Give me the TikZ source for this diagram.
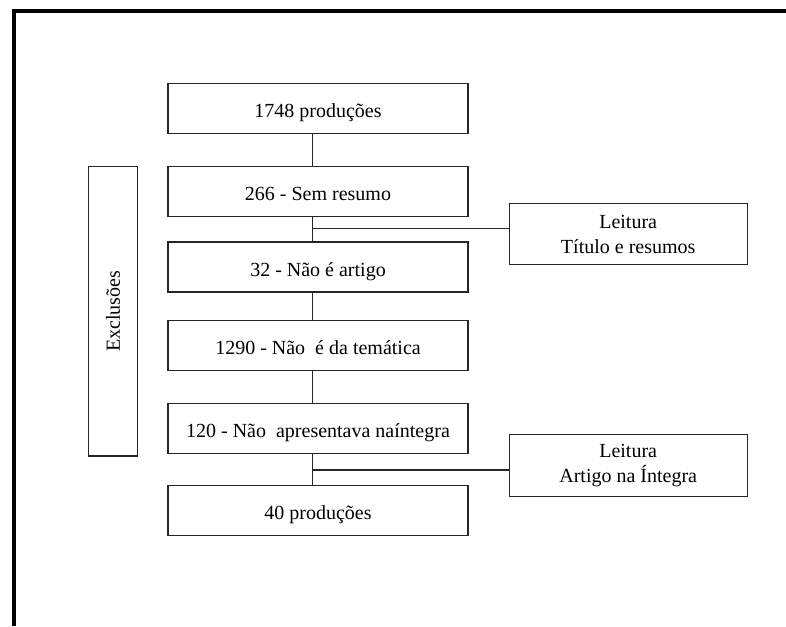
\documentclass[tikz,border=0pt]{standalone}
\usepackage{fontspec}
\setmainfont{Liberation Serif}
\begin{document}
\begin{tikzpicture}[x=1pt,y=-1pt,
  box/.style={draw=black!85, line width=1.1pt, inner sep=0pt, font=\fontsize{20}{25}\selectfont, align=center},
  mainbox/.style={box, minimum width=300pt, minimum height=50pt, text height=22pt, text depth=4pt},
  sidebox/.style={box, minimum width=238.3pt, minimum height=61pt},
  link/.style={draw=black!85, line width=1.1pt},
  frame/.style={draw=black, line width=4pt}]
\useasboundingbox (0,0) rectangle (786,626);
\draw[frame] (14,626) -- (14,11.5) -- (786,11.5);
% main column
\node[mainbox] (b1) at (318,108.5) {1748 produções};
\node[mainbox] (b2) at (318,191.2) {266 - Sem resumo};
\node[mainbox] (b3) at (318,267) {32 - Não é artigo};
\node[mainbox] (b4) at (318,345.8) {1290 - Não\ \ é da temática};
\node[mainbox] (b5) at (318,428.8) {120 - Não\ \ apresentava naíntegra};
\node[mainbox] (b6) at (318,510.8) {40 produções};
% side boxes
\node[sidebox] (r1) at (628.2,234.2) {Leitura\\Título e resumos};
\node[sidebox, minimum height=62.7pt] (r2) at (628.2,465.4) {Leitura\\Artigo na Íntegra};
% exclusions
\node[box, rotate=90, minimum width=289.3pt, minimum height=49.4pt] (ex) at (113,311.3) {Exclusões};
% connectors
\coordinate (spine) at (312.7,0);
\coordinate (j1) at (312.7,228.3);
\coordinate (j2) at (312.7,470);
\draw[link] (b1.south -| spine) -- (b2.north -| spine);
\draw[link] (b2.south -| spine) -- (b3.north -| spine);
\draw[link] (b3.south -| spine) -- (b4.north -| spine);
\draw[link] (b4.south -| spine) -- (b5.north -| spine);
\draw[link] (b5.south -| spine) -- (b6.north -| spine);
\draw[link] (j1) -- (j1 -| r1.west);
\draw[link] (j2) -- (j2 -| r2.west);
\end{tikzpicture}
\end{document}
